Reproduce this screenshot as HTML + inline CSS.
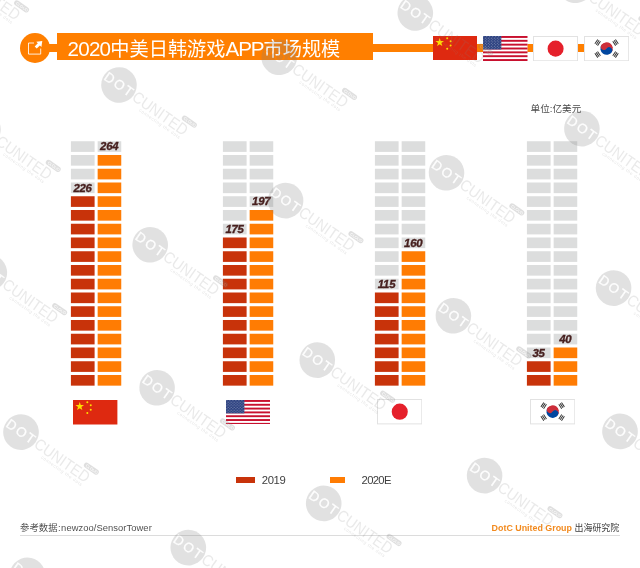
<!DOCTYPE html>
<html lang="zh">
<head>
<meta charset="utf-8">
<title>2020中美日韩游戏APP市场规模</title>
<style>
html,body{margin:0;padding:0;background:#fff;}
body{width:640px;height:568px;position:relative;overflow:hidden;font-family:"Liberation Sans","Noto Sans CJK SC",sans-serif;}
.abs{position:absolute;}
#bars{position:absolute;left:0;top:0;}
#bars .g{fill:#dcdddd;}
#bars .r{fill:#c8330a;}
#bars .o{fill:#ff7c03;}
#bars .lab text{font-family:"Liberation Sans",sans-serif;font-size:11.4px;font-weight:bold;font-style:italic;fill:#47201f;stroke:#47201f;stroke-width:0.35px;text-anchor:middle;letter-spacing:-0.25px;}
#wmlayer{position:absolute;left:0;top:0;width:640px;height:568px;pointer-events:none;}
.title{position:absolute;left:57px;top:33px;width:316px;height:27px;background:#ff7f00;color:#fff;font-size:19.2px;line-height:27px;white-space:nowrap;}
.title span{position:absolute;left:10.5px;top:1.8px;}
.title i{font-style:normal;font-size:20.6px;letter-spacing:-0.75px;}
.title i.a{letter-spacing:-1.05px;}
.flag{position:absolute;}
.legend{position:absolute;font-size:11.3px;color:#404040;line-height:12px;white-space:nowrap;letter-spacing:-0.4px;}
.sw{position:absolute;height:6px;}
.foot{position:absolute;font-size:9.4px;line-height:12px;white-space:nowrap;color:#444;}
</style>
</head>
<body>
<!-- header -->
<div class="abs" style="left:34px;top:44px;width:420px;height:8px;background:#ff7f00"></div>
<div class="abs" style="left:476px;top:44px;width:110px;height:8px;background:#ff7f00"></div>
<div class="abs" style="left:19.6px;top:33.2px;width:30.3px;height:30.3px;border-radius:50%;background:#ff7f00"></div>
<svg class="abs" style="left:24px;top:37px" width="20" height="20" viewBox="0 0 20 20">
  <path d="M10 6H4.5V17.1H16.7V11.6" fill="none" stroke="#fff" stroke-width="1" opacity="0.85"/>
  <path d="M11.7 10.5L15.6 6.6" fill="none" stroke="#fff" stroke-width="2.9"/>
  <path d="M18.3 3.9L12.3 4.8L17.4 9.9Z" fill="#fff"/>
</svg>
<div class="title"><span><i>2020</i>中美日韩游戏<i class="a">APP</i>市场规模</span></div>

<!-- header flags -->
<svg class="flag" style="left:433px;top:36px" width="44" height="24" viewBox="0 0 44 24"><use href="#cn"/></svg>
<svg class="flag" style="left:483px;top:35.5px" width="44.5" height="25" viewBox="0 0 44.5 25"><use href="#us"/></svg>
<svg class="flag" style="left:533.2px;top:35.7px" width="45" height="25.3" viewBox="0 0 45 25" preserveAspectRatio="none"><use href="#jp"/></svg>
<svg class="flag" style="left:584.2px;top:35.7px" width="45.2" height="25.3" viewBox="0 0 45 25" preserveAspectRatio="none"><use href="#kr"/></svg>

<div class="foot" style="left:530.6px;top:103px;font-size:9.6px;color:#4a4a4a">单位:亿美元</div>

<!-- bars -->
<svg id="bars" width="640" height="568" viewBox="0 0 640 568">
<rect class="g" x="70.90" y="141.25" width="23.7" height="10.65"/>
<rect class="g" x="70.90" y="155.00" width="23.7" height="10.65"/>
<rect class="g" x="70.90" y="168.75" width="23.7" height="10.65"/>
<rect class="g" x="70.90" y="182.50" width="23.7" height="10.65"/>
<rect class="r" x="70.90" y="196.25" width="23.7" height="10.65"/>
<rect class="r" x="70.90" y="210.00" width="23.7" height="10.65"/>
<rect class="r" x="70.90" y="223.75" width="23.7" height="10.65"/>
<rect class="r" x="70.90" y="237.50" width="23.7" height="10.65"/>
<rect class="r" x="70.90" y="251.25" width="23.7" height="10.65"/>
<rect class="r" x="70.90" y="265.00" width="23.7" height="10.65"/>
<rect class="r" x="70.90" y="278.75" width="23.7" height="10.65"/>
<rect class="r" x="70.90" y="292.50" width="23.7" height="10.65"/>
<rect class="r" x="70.90" y="306.25" width="23.7" height="10.65"/>
<rect class="r" x="70.90" y="320.00" width="23.7" height="10.65"/>
<rect class="r" x="70.90" y="333.75" width="23.7" height="10.65"/>
<rect class="r" x="70.90" y="347.50" width="23.7" height="10.65"/>
<rect class="r" x="70.90" y="361.25" width="23.7" height="10.65"/>
<rect class="r" x="70.90" y="375.00" width="23.7" height="10.65"/>
<rect class="g" x="97.65" y="141.25" width="23.6" height="10.65"/>
<rect class="o" x="97.65" y="155.00" width="23.6" height="10.65"/>
<rect class="o" x="97.65" y="168.75" width="23.6" height="10.65"/>
<rect class="o" x="97.65" y="182.50" width="23.6" height="10.65"/>
<rect class="o" x="97.65" y="196.25" width="23.6" height="10.65"/>
<rect class="o" x="97.65" y="210.00" width="23.6" height="10.65"/>
<rect class="o" x="97.65" y="223.75" width="23.6" height="10.65"/>
<rect class="o" x="97.65" y="237.50" width="23.6" height="10.65"/>
<rect class="o" x="97.65" y="251.25" width="23.6" height="10.65"/>
<rect class="o" x="97.65" y="265.00" width="23.6" height="10.65"/>
<rect class="o" x="97.65" y="278.75" width="23.6" height="10.65"/>
<rect class="o" x="97.65" y="292.50" width="23.6" height="10.65"/>
<rect class="o" x="97.65" y="306.25" width="23.6" height="10.65"/>
<rect class="o" x="97.65" y="320.00" width="23.6" height="10.65"/>
<rect class="o" x="97.65" y="333.75" width="23.6" height="10.65"/>
<rect class="o" x="97.65" y="347.50" width="23.6" height="10.65"/>
<rect class="o" x="97.65" y="361.25" width="23.6" height="10.65"/>
<rect class="o" x="97.65" y="375.00" width="23.6" height="10.65"/>
<rect class="g" x="222.90" y="141.25" width="23.7" height="10.65"/>
<rect class="g" x="222.90" y="155.00" width="23.7" height="10.65"/>
<rect class="g" x="222.90" y="168.75" width="23.7" height="10.65"/>
<rect class="g" x="222.90" y="182.50" width="23.7" height="10.65"/>
<rect class="g" x="222.90" y="196.25" width="23.7" height="10.65"/>
<rect class="g" x="222.90" y="210.00" width="23.7" height="10.65"/>
<rect class="g" x="222.90" y="223.75" width="23.7" height="10.65"/>
<rect class="r" x="222.90" y="237.50" width="23.7" height="10.65"/>
<rect class="r" x="222.90" y="251.25" width="23.7" height="10.65"/>
<rect class="r" x="222.90" y="265.00" width="23.7" height="10.65"/>
<rect class="r" x="222.90" y="278.75" width="23.7" height="10.65"/>
<rect class="r" x="222.90" y="292.50" width="23.7" height="10.65"/>
<rect class="r" x="222.90" y="306.25" width="23.7" height="10.65"/>
<rect class="r" x="222.90" y="320.00" width="23.7" height="10.65"/>
<rect class="r" x="222.90" y="333.75" width="23.7" height="10.65"/>
<rect class="r" x="222.90" y="347.50" width="23.7" height="10.65"/>
<rect class="r" x="222.90" y="361.25" width="23.7" height="10.65"/>
<rect class="r" x="222.90" y="375.00" width="23.7" height="10.65"/>
<rect class="g" x="249.65" y="141.25" width="23.6" height="10.65"/>
<rect class="g" x="249.65" y="155.00" width="23.6" height="10.65"/>
<rect class="g" x="249.65" y="168.75" width="23.6" height="10.65"/>
<rect class="g" x="249.65" y="182.50" width="23.6" height="10.65"/>
<rect class="g" x="249.65" y="196.25" width="23.6" height="10.65"/>
<rect class="o" x="249.65" y="210.00" width="23.6" height="10.65"/>
<rect class="o" x="249.65" y="223.75" width="23.6" height="10.65"/>
<rect class="o" x="249.65" y="237.50" width="23.6" height="10.65"/>
<rect class="o" x="249.65" y="251.25" width="23.6" height="10.65"/>
<rect class="o" x="249.65" y="265.00" width="23.6" height="10.65"/>
<rect class="o" x="249.65" y="278.75" width="23.6" height="10.65"/>
<rect class="o" x="249.65" y="292.50" width="23.6" height="10.65"/>
<rect class="o" x="249.65" y="306.25" width="23.6" height="10.65"/>
<rect class="o" x="249.65" y="320.00" width="23.6" height="10.65"/>
<rect class="o" x="249.65" y="333.75" width="23.6" height="10.65"/>
<rect class="o" x="249.65" y="347.50" width="23.6" height="10.65"/>
<rect class="o" x="249.65" y="361.25" width="23.6" height="10.65"/>
<rect class="o" x="249.65" y="375.00" width="23.6" height="10.65"/>
<rect class="g" x="374.90" y="141.25" width="23.7" height="10.65"/>
<rect class="g" x="374.90" y="155.00" width="23.7" height="10.65"/>
<rect class="g" x="374.90" y="168.75" width="23.7" height="10.65"/>
<rect class="g" x="374.90" y="182.50" width="23.7" height="10.65"/>
<rect class="g" x="374.90" y="196.25" width="23.7" height="10.65"/>
<rect class="g" x="374.90" y="210.00" width="23.7" height="10.65"/>
<rect class="g" x="374.90" y="223.75" width="23.7" height="10.65"/>
<rect class="g" x="374.90" y="237.50" width="23.7" height="10.65"/>
<rect class="g" x="374.90" y="251.25" width="23.7" height="10.65"/>
<rect class="g" x="374.90" y="265.00" width="23.7" height="10.65"/>
<rect class="g" x="374.90" y="278.75" width="23.7" height="10.65"/>
<rect class="r" x="374.90" y="292.50" width="23.7" height="10.65"/>
<rect class="r" x="374.90" y="306.25" width="23.7" height="10.65"/>
<rect class="r" x="374.90" y="320.00" width="23.7" height="10.65"/>
<rect class="r" x="374.90" y="333.75" width="23.7" height="10.65"/>
<rect class="r" x="374.90" y="347.50" width="23.7" height="10.65"/>
<rect class="r" x="374.90" y="361.25" width="23.7" height="10.65"/>
<rect class="r" x="374.90" y="375.00" width="23.7" height="10.65"/>
<rect class="g" x="401.65" y="141.25" width="23.6" height="10.65"/>
<rect class="g" x="401.65" y="155.00" width="23.6" height="10.65"/>
<rect class="g" x="401.65" y="168.75" width="23.6" height="10.65"/>
<rect class="g" x="401.65" y="182.50" width="23.6" height="10.65"/>
<rect class="g" x="401.65" y="196.25" width="23.6" height="10.65"/>
<rect class="g" x="401.65" y="210.00" width="23.6" height="10.65"/>
<rect class="g" x="401.65" y="223.75" width="23.6" height="10.65"/>
<rect class="g" x="401.65" y="237.50" width="23.6" height="10.65"/>
<rect class="o" x="401.65" y="251.25" width="23.6" height="10.65"/>
<rect class="o" x="401.65" y="265.00" width="23.6" height="10.65"/>
<rect class="o" x="401.65" y="278.75" width="23.6" height="10.65"/>
<rect class="o" x="401.65" y="292.50" width="23.6" height="10.65"/>
<rect class="o" x="401.65" y="306.25" width="23.6" height="10.65"/>
<rect class="o" x="401.65" y="320.00" width="23.6" height="10.65"/>
<rect class="o" x="401.65" y="333.75" width="23.6" height="10.65"/>
<rect class="o" x="401.65" y="347.50" width="23.6" height="10.65"/>
<rect class="o" x="401.65" y="361.25" width="23.6" height="10.65"/>
<rect class="o" x="401.65" y="375.00" width="23.6" height="10.65"/>
<rect class="g" x="526.90" y="141.25" width="23.7" height="10.65"/>
<rect class="g" x="526.90" y="155.00" width="23.7" height="10.65"/>
<rect class="g" x="526.90" y="168.75" width="23.7" height="10.65"/>
<rect class="g" x="526.90" y="182.50" width="23.7" height="10.65"/>
<rect class="g" x="526.90" y="196.25" width="23.7" height="10.65"/>
<rect class="g" x="526.90" y="210.00" width="23.7" height="10.65"/>
<rect class="g" x="526.90" y="223.75" width="23.7" height="10.65"/>
<rect class="g" x="526.90" y="237.50" width="23.7" height="10.65"/>
<rect class="g" x="526.90" y="251.25" width="23.7" height="10.65"/>
<rect class="g" x="526.90" y="265.00" width="23.7" height="10.65"/>
<rect class="g" x="526.90" y="278.75" width="23.7" height="10.65"/>
<rect class="g" x="526.90" y="292.50" width="23.7" height="10.65"/>
<rect class="g" x="526.90" y="306.25" width="23.7" height="10.65"/>
<rect class="g" x="526.90" y="320.00" width="23.7" height="10.65"/>
<rect class="g" x="526.90" y="333.75" width="23.7" height="10.65"/>
<rect class="g" x="526.90" y="347.50" width="23.7" height="10.65"/>
<rect class="r" x="526.90" y="361.25" width="23.7" height="10.65"/>
<rect class="r" x="526.90" y="375.00" width="23.7" height="10.65"/>
<rect class="g" x="553.65" y="141.25" width="23.6" height="10.65"/>
<rect class="g" x="553.65" y="155.00" width="23.6" height="10.65"/>
<rect class="g" x="553.65" y="168.75" width="23.6" height="10.65"/>
<rect class="g" x="553.65" y="182.50" width="23.6" height="10.65"/>
<rect class="g" x="553.65" y="196.25" width="23.6" height="10.65"/>
<rect class="g" x="553.65" y="210.00" width="23.6" height="10.65"/>
<rect class="g" x="553.65" y="223.75" width="23.6" height="10.65"/>
<rect class="g" x="553.65" y="237.50" width="23.6" height="10.65"/>
<rect class="g" x="553.65" y="251.25" width="23.6" height="10.65"/>
<rect class="g" x="553.65" y="265.00" width="23.6" height="10.65"/>
<rect class="g" x="553.65" y="278.75" width="23.6" height="10.65"/>
<rect class="g" x="553.65" y="292.50" width="23.6" height="10.65"/>
<rect class="g" x="553.65" y="306.25" width="23.6" height="10.65"/>
<rect class="g" x="553.65" y="320.00" width="23.6" height="10.65"/>
<rect class="g" x="553.65" y="333.75" width="23.6" height="10.65"/>
<rect class="o" x="553.65" y="347.50" width="23.6" height="10.65"/>
<rect class="o" x="553.65" y="361.25" width="23.6" height="10.65"/>
<rect class="o" x="553.65" y="375.00" width="23.6" height="10.65"/>
<g class="lab"><text x="82.55" y="191.70">226</text><text x="109.25" y="150.45">264</text><text x="234.55" y="232.95">175</text><text x="261.25" y="205.45">197</text><text x="386.55" y="287.95">115</text><text x="413.25" y="246.70">160</text><text x="538.55" y="356.70">35</text><text x="565.25" y="342.95">40</text></g>
</svg>

<!-- bottom flags -->
<svg class="flag" style="left:73.2px;top:400px" width="44.4" height="24.5" viewBox="0 0 44 24" preserveAspectRatio="none"><use href="#cn"/></svg>
<svg class="flag" style="left:225.6px;top:399.7px" width="44.6" height="24.8" viewBox="0 0 44.5 25" preserveAspectRatio="none"><use href="#us"/></svg>
<svg class="flag" style="left:377.1px;top:399.2px" width="45.3" height="25.4" viewBox="0 0 45 25" preserveAspectRatio="none"><use href="#jp"/></svg>
<svg class="flag" style="left:529.5px;top:399.2px" width="45.3" height="25.4" viewBox="0 0 45 25" preserveAspectRatio="none"><use href="#kr"/></svg>

<!-- legend -->
<div class="sw" style="left:236px;top:476.5px;width:18.5px;background:#c8330a"></div>
<div class="legend" style="left:261.8px;top:474.3px">2019</div>
<div class="sw" style="left:330px;top:476.5px;width:14.7px;background:#ff7c03"></div>
<div class="legend" style="left:361.6px;top:474.3px;letter-spacing:-0.7px">2020E</div>

<!-- footer -->
<div class="foot" style="left:20px;top:522.4px;color:#505050;font-size:9.4px">参考数据<span style="margin:0 0.6px 0 0.4px">:</span><span style="letter-spacing:0.06px">newzoo/SensorTower</span></div>
<div class="abs" style="left:20px;top:535px;width:599.5px;height:1px;background:#dcdcdc"></div>
<div class="foot" style="left:491.6px;top:522.4px;font-size:8.9px;font-weight:bold;color:#f28a1e">DotC United Group</div>
<div class="foot" style="left:574.5px;top:522.2px;font-size:8.95px;color:#3c3c3c">出海研究院</div>

<!-- watermark + defs -->
<svg id="wmlayer" width="640" height="568" viewBox="0 0 640 568">
<defs>
  <pattern id="stars" width="3" height="2.7" patternUnits="userSpaceOnUse">
    <circle cx="0.8" cy="0.75" r="0.48" fill="#fff" fill-opacity="0.62"/><circle cx="2.3" cy="2.1" r="0.48" fill="#fff" fill-opacity="0.62"/>
  </pattern>
  <mask id="dotmask" maskUnits="userSpaceOnUse" x="-19" y="-19" width="38" height="38">
    <rect x="-19" y="-19" width="38" height="38" fill="#fff"/>
    <text x="-16.5" y="4.2" font-family="Liberation Sans, sans-serif" font-size="13.5" fill="#000" fill-opacity="0.95" stroke="#000" stroke-width="0.35" textLength="32" lengthAdjust="spacing">DOT</text>
  </mask>
  <g id="wm" opacity="0.23">
    <circle cx="0" cy="0" r="17.8" fill="#808080" mask="url(#dotmask)"/>
    <text x="18" y="5" font-family="Liberation Sans, sans-serif" font-size="16" fill="#808080" fill-opacity="0.72" textLength="64" lengthAdjust="spacingAndGlyphs">CUNITED</text>
    <text x="31" y="9.8" font-family="Liberation Sans, sans-serif" font-size="4.5" fill="#8c8c8c" textLength="49" lengthAdjust="spacing">connecting the dots</text>
    <rect x="70.1" y="-13.1" width="17" height="5.4" rx="2.7" fill="#787878"/>
    <text x="72.2" y="-8.9" font-family="Liberation Sans, sans-serif" font-size="4" fill="#fff">CLOUD</text>
  </g>
  <g id="cn">
    <rect width="44" height="24" fill="#de2910"/>
    <text x="1.8" y="9.8" font-size="11" fill="#ffde00" font-family="DejaVu Sans, sans-serif">★</text>
    <circle cx="14.2" cy="2.2" r="1" fill="#ffde00"/><circle cx="17.6" cy="5.2" r="1" fill="#ffde00"/>
    <circle cx="17.6" cy="9.6" r="1" fill="#ffde00"/><circle cx="14.2" cy="12.8" r="1" fill="#ffde00"/>
  </g>
  <g id="us">
    <rect width="44.5" height="25" fill="#fff"/>
    <g fill="#c8102e">
      <rect y="0" width="44.5" height="1.92"/><rect y="3.85" width="44.5" height="1.92"/><rect y="7.69" width="44.5" height="1.92"/>
      <rect y="11.54" width="44.5" height="1.92"/><rect y="15.38" width="44.5" height="1.92"/><rect y="19.23" width="44.5" height="1.92"/><rect y="23.08" width="44.5" height="1.92"/>
    </g>
    <rect width="18.3" height="13.46" fill="#2a3f7f"/>
    <rect width="18.3" height="13.46" fill="url(#stars)"/>
  </g>
  <g id="jp">
    <rect x="0.5" y="0.5" width="44" height="24" fill="#fff" stroke="#e2e2e2" stroke-width="1"/>
    <circle cx="22.6" cy="12.5" r="8" fill="#e5202b"/>
  </g>
  <g id="kr">
    <rect x="0.5" y="0.5" width="44" height="24" fill="#fff" stroke="#e2e2e2" stroke-width="1"/>
    <g transform="translate(22.5,12.4)">
      <g transform="rotate(33.7)">
        <path d="M-6.2 0A6.2 6.2 0 0 1 6.2 0Z" fill="#cd2e3a"/>
        <path d="M-6.2 0A6.2 6.2 0 0 0 6.2 0Z" fill="#0047a0"/>
        <circle cx="-3.1" cy="0" r="3.1" fill="#cd2e3a"/>
        <circle cx="3.1" cy="0" r="3.1" fill="#0047a0"/>
      </g>
      <g stroke="#333" stroke-width="0.95">
        <g transform="rotate(33.7)"><path d="M-12.3 -2.6V2.6M-10.7 -2.6V2.6M-9.1 -2.6V2.6M9.1 -2.6V2.6M10.7 -2.6V2.6M12.3 -2.6V2.6"/></g>
        <g transform="rotate(-33.7)"><path d="M-12.3 -2.6V2.6M-10.7 -2.6V2.6M-9.1 -2.6V2.6M9.1 -2.6V2.6M10.7 -2.6V2.6M12.3 -2.6V2.6"/></g>
      </g>
    </g>
  </g>
</defs>
<use href="#wm" transform="translate(112.1,-58.0) rotate(35)"/>
<use href="#wm" transform="translate(-48.8,-30.2) rotate(35)"/>
<use href="#wm" transform="translate(575.5,-14.7) rotate(35)"/>
<use href="#wm" transform="translate(415.3,13.0) rotate(35)"/>
<use href="#wm" transform="translate(279.2,57.3) rotate(35)"/>
<use href="#wm" transform="translate(119.0,85.0) rotate(35)"/>
<use href="#wm" transform="translate(581.9,128.6) rotate(35)"/>
<use href="#wm" transform="translate(-17.1,129.3) rotate(35)"/>
<use href="#wm" transform="translate(446.5,172.8) rotate(35)"/>
<use href="#wm" transform="translate(285.6,200.6) rotate(35)"/>
<use href="#wm" transform="translate(150.2,244.8) rotate(35)"/>
<use href="#wm" transform="translate(-10.7,272.6) rotate(35)"/>
<use href="#wm" transform="translate(613.6,288.1) rotate(35)"/>
<use href="#wm" transform="translate(453.4,315.8) rotate(35)"/>
<use href="#wm" transform="translate(317.3,360.1) rotate(35)"/>
<use href="#wm" transform="translate(157.1,387.8) rotate(35)"/>
<use href="#wm" transform="translate(620.0,431.4) rotate(35)"/>
<use href="#wm" transform="translate(21.0,432.1) rotate(35)"/>
<use href="#wm" transform="translate(484.6,475.6) rotate(35)"/>
<use href="#wm" transform="translate(323.7,503.4) rotate(35)"/>
<use href="#wm" transform="translate(188.3,547.6) rotate(35)"/>
<use href="#wm" transform="translate(27.4,575.4) rotate(35)"/>
</svg>
</body>
</html>
